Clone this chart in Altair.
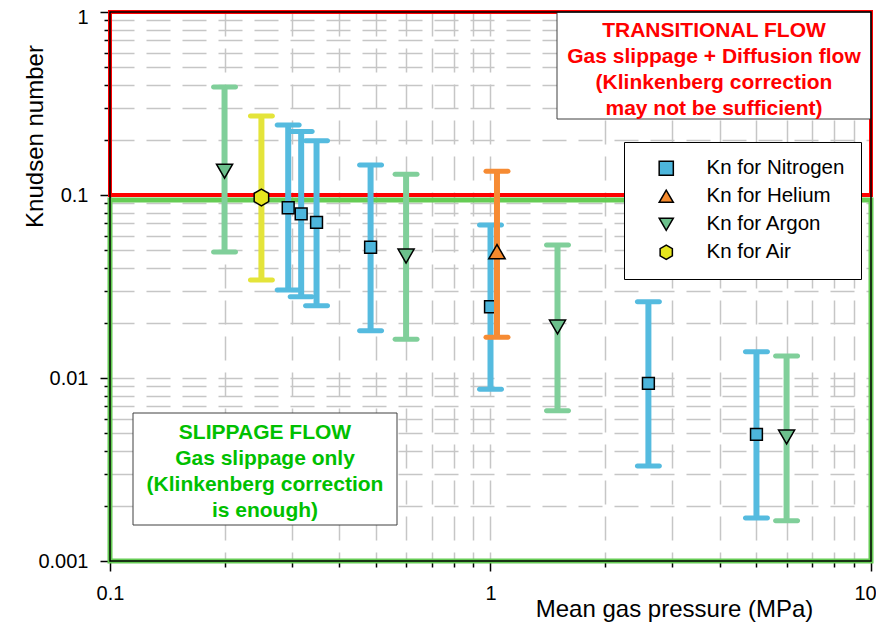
import altair as alt
import pandas as pd

# ---------------- data ----------------
series_names = ["Kn for Nitrogen", "Kn for Helium", "Kn for Argon", "Kn for Air"]

nitrogen_p = [0.294, 0.318, 0.349, 0.484, 1.0, 2.6, 5.0]
nitrogen_kn = [0.0852, 0.0788, 0.0709, 0.0518, 0.0245, 0.00935, 0.00492]
nitrogen_lo = [0.0303, 0.0278, 0.0248, 0.0181, 0.00867, 0.0033, 0.00172]
nitrogen_hi = [0.241, 0.222, 0.198, 0.146, 0.0686, 0.0261, 0.0139]

helium_p = [1.04]
helium_kn = [0.049]
helium_lo = [0.0167]
helium_hi = [0.135]

argon_p = [0.2, 0.6, 1.5, 6.0]
argon_kn = [0.135, 0.0464, 0.019, 0.00476]
argon_lo = [0.0488, 0.0163, 0.00663, 0.00166]
argon_hi = [0.389, 0.130, 0.0533, 0.0132]

air_p = [0.25]
air_kn = [0.097]
air_lo = [0.0343]
air_hi = [0.27]

x_ticks = [0.1, 0.2, 0.3, 0.4, 0.5, 0.6, 0.7, 0.8, 0.9, 1, 2, 3, 4, 5, 6, 7, 8, 9, 10]
y_ticks = [0.001, 0.002, 0.003, 0.004, 0.005, 0.006, 0.007, 0.008, 0.009,
           0.01, 0.02, 0.03, 0.04, 0.05, 0.06, 0.07, 0.08, 0.09,
           0.1, 0.2, 0.3, 0.4, 0.5, 0.6, 0.7, 0.8, 0.9, 1]

transitional_lines = ["TRANSITIONAL FLOW", "Gas slippage + Diffusion flow",
                      "(Klinkenberg correction", "may not be sufficient)"]
slippage_lines = ["SLIPPAGE FLOW", "Gas slippage only",
                  "(Klinkenberg correction", "is enough)"]

# ---------------- styles ----------------
FONT = "Liberation Sans"
bar_colors = ["#55bbdf", "#f68b33", "#80cf9a", "#e4e43a"]
marker_colors = ["#4db6dc", "#f58a2d", "#6cc08c", "#e6e61e"]
HEX = "M0,-1L0.866,-0.5L0.866,0.5L0,1L-0.866,0.5L-0.866,-0.5Z"
shapes = ["square", "triangle-up", "triangle-down", HEX]
marker_sizes = [140, 270, 260, 280]

series_data = [
    (nitrogen_p, nitrogen_kn, nitrogen_lo, nitrogen_hi),
    (helium_p, helium_kn, helium_lo, helium_hi),
    (argon_p, argon_kn, argon_lo, argon_hi),
    (air_p, air_kn, air_lo, air_hi),
]

rows = []
for name, (ps, kns, los, his) in zip(series_names, series_data):
    for p, k, lo, hi in zip(ps, kns, los, his):
        rows.append({"gas": name, "p": p, "kn": k, "lo": lo, "hi": hi})
df = pd.DataFrame(rows)

major_test = "abs(log(datum.value)/LN10 - round(log(datum.value)/LN10)) < 1e-6"

common_axis = dict(
    grid=True, gridDash=[24, 12], gridColor="#c6c6c6", gridWidth=1.5,
    domainColor="black", domainWidth=1.5,
    tickColor="black", tickWidth=1.5,
    tickSize={"condition": {"test": major_test, "value": 10}, "value": 6},
    labelExpr=f"({major_test}) ? format(datum.value, '~g') : ''",
    labelFont=FONT, labelFontSize=20, labelColor="black", labelFlush=False,
    labelOverlap=False,
    titleFont=FONT, titleFontSize=24, titleFontWeight="normal", titleColor="black",
)

x_axis = alt.Axis(values=x_ticks, title="Mean gas pressure (MPa)", labelPadding=12,
                  labelOffset={"condition": {"test": "datum.value > 9.5", "value": -6}, "value": 0},
                  titleX=564, titleY=48, titleBaseline="middle", titleAlign="center",
                  **common_axis)
y_axis = alt.Axis(values=y_ticks, title="Knudsen number", labelPadding=12,
                  labelOffset={"condition": {"test": "datum.value > 0.95", "value": 5}, "value": 0},
                  titleX=-75, titleY=124, titleBaseline="middle", titleAlign="center",
                  titleAngle=270, **common_axis)

x_scale = alt.Scale(type="log", domain=[0.1, 10])
y_scale = alt.Scale(type="log", domain=[0.001, 1])

X = lambda f: alt.X(f, type="quantitative", scale=x_scale, axis=x_axis)
Y = lambda f: alt.Y(f, type="quantitative", scale=y_scale, axis=y_axis)

layers = []

# regime frames
regions = pd.DataFrame({
    "x0": [0.1, 0.1], "x1": [10, 10],
    "y0": [0.001, 0.1], "y1": [0.094, 1],
    "kind": ["slip", "trans"],
})
layers.append(alt.Chart(regions[regions.kind == "slip"]).mark_rect(
    filled=False, stroke="#66cc55", strokeWidth=5).encode(
    x=X("x0"), x2="x1", y=Y("y0"), y2="y1"))
layers.append(alt.Chart(regions[regions.kind == "trans"]).mark_rect(
    filled=False, stroke="#ff0000", strokeWidth=4).encode(
    x=X("x0"), x2="x1", y=Y("y0"), y2="y1"))

legend = alt.Legend(
    title=None, orient="none", legendX=514, legendY=130,
    fillColor="white", strokeColor="black",
    padding=16, rowPadding=7, symbolOffset=16, labelOffset=30,
    symbolSize=200, symbolStrokeColor="black", symbolStrokeWidth=1.5,
    labelFont=FONT, labelFontSize=20.5, labelColor="black", labelLimit=300,
)

for i, name in enumerate(series_names):
    d = df[df.gas == name]
    c = bar_colors[i]
    layers.append(alt.Chart(d).mark_rule(color=c, strokeWidth=6).encode(
        x=X("p"), y=Y("lo"), y2="hi"))
    for f in ("lo", "hi"):
        layers.append(alt.Chart(d).mark_tick(
            orient="horizontal", color=c, size=27, thickness=5, cornerRadius=2.5,
            opacity=1).encode(x=X("p"), y=Y(f)))
    layers.append(alt.Chart(d).mark_point(
        filled=True, stroke="black", strokeWidth=1.5, opacity=1).encode(
        x=X("p"), y=Y("kn"),
        color=alt.Color("gas:N", scale=alt.Scale(domain=series_names, range=marker_colors),
                        legend=legend),
        shape=alt.Shape("gas:N", scale=alt.Scale(domain=series_names, range=shapes),
                        legend=legend),
        size=alt.value(marker_sizes[i]),
    ))

# annotation boxes
blank = alt.Data(values=[{}])
layers.append(alt.Chart(blank).mark_rect(fill="white", stroke="#404040", strokeWidth=1).encode(
    x=alt.value(447), x2=alt.value(761), y=alt.value(0), y2=alt.value(107)))
layers.append(alt.Chart(blank).mark_text(
    text=transitional_lines, font=FONT, fontSize=21, fontWeight="bold", color="#ff0000",
    align="center", baseline="middle", lineHeight=26).encode(
    x=alt.value(604), y=alt.value(19)))
layers.append(alt.Chart(blank).mark_rect(fill="white", stroke="#404040", strokeWidth=1).encode(
    x=alt.value(23), x2=alt.value(287), y=alt.value(401), y2=alt.value(513)))
layers.append(alt.Chart(blank).mark_text(
    text=slippage_lines, font=FONT, fontSize=21, fontWeight="bold", color="#00c000",
    align="center", baseline="middle", lineHeight=26).encode(
    x=alt.value(155), y=alt.value(421)))

# black plot frame on top
layers.append(alt.Chart(blank).mark_rect(filled=False, stroke="black", strokeWidth=1.5).encode(
    x=alt.value(0), x2=alt.value(761), y=alt.value(0), y2=alt.value(549)))

chart = alt.layer(*layers).properties(
    width=761, height=549,
    autosize=alt.AutoSizeParams(type="none"),
    padding={"left": 102, "top": 4, "right": 5, "bottom": 61},
).configure_view(stroke=None).configure(background="white")

chart.save("out.html", embed_options={"renderer": "svg", "actions": False})
